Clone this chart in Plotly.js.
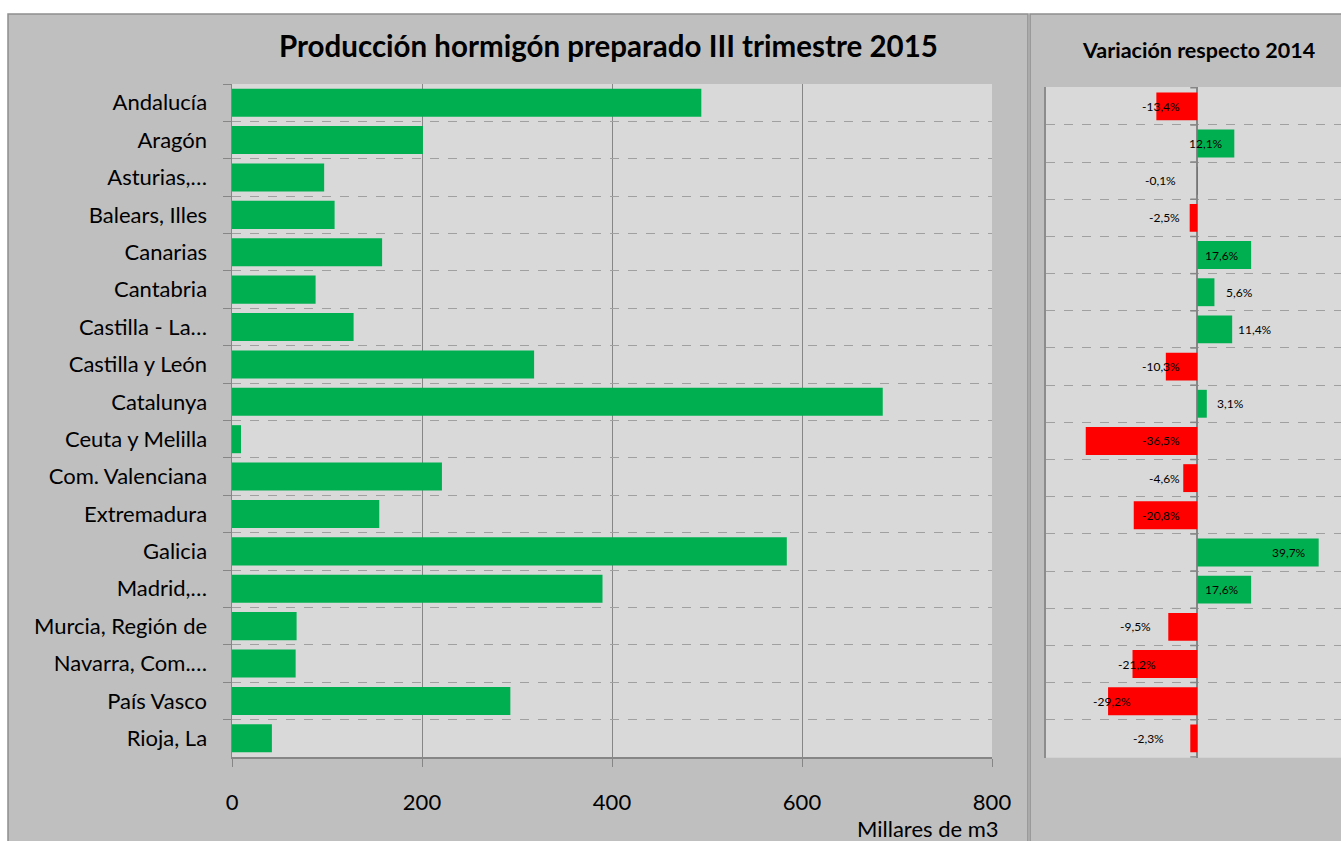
<!DOCTYPE html>
<html>
<head>
<meta charset="utf-8">
<script src="https://cdn.plot.ly/plotly-3.0.1.min.js"></script>
<style>html,body{margin:0;padding:0;background:#fff;}#chart{width:1341px;height:841px;}</style>
</head>
<body>
<div id="chart"></div>
<script>
const regions = ["Andalucía","Aragón","Asturias,…","Balears, Illes","Canarias","Cantabria","Castilla - La…","Castilla y León","Catalunya","Ceuta y Melilla","Com. Valenciana","Extremadura","Galicia","Madrid,…","Murcia, Región de","Navarra, Com.…","País Vasco","Rioja, La"];
const production = [494, 201, 97, 108, 158, 88, 128, 318, 685, 9.5, 221, 155, 584, 390, 68, 67, 293, 42];
const variation = [-13.4, 12.1, -0.1, -2.5, 17.6, 5.6, 11.4, -10.3, 3.1, -36.5, -4.6, -20.8, 39.7, 17.6, -9.5, -21.2, -29.2, -2.3];
const variationLabels = ["-13,4%","12,1%","-0,1%","-2,5%","17,6%","5,6%","11,4%","-10,3%","3,1%","-36,5%","-4,6%","-20,8%","39,7%","17,6%","-9,5%","-21,2%","-29,2%","-2,3%"];
const xTicks = [0, 200, 400, 600, 800];

// label offsets from the zero line (px), styling only
const labelShift = [-15, -10, -19, -15, 6, 27, 39, -15, 18, -15, -15, -15, 73, 6, -44, -39, -64, -31];

const W = 1341, H = 841;
const px = v => v / W, py = v => 1 - v / H;
const FONT = "Lato, 'Open Sans', sans-serif";
const GREEN = "#00b050", RED = "#ff0000";

const traces = [
  {type: "bar", orientation: "h", x: production, y: regions, marker: {color: GREEN}, xaxis: "x", yaxis: "y", hoverinfo: "x+y"},
  {type: "bar", orientation: "h", x: variation, y: regions, marker: {color: variation.map(v => v < 0 ? RED : GREEN)}, xaxis: "x2", yaxis: "y2", hoverinfo: "x+y"}
];

const shapes = [
  {type: "rect", xref: "paper", yref: "paper", x0: px(8), x1: px(1028), y0: -0.05, y1: py(14), fillcolor: "#bfbfbf", line: {color: "#8f8f8f", width: 1.5}, layer: "below"},
  {type: "rect", xref: "paper", yref: "paper", x0: px(1030), x1: 1.05, y0: -0.05, y1: py(14), fillcolor: "#bfbfbf", line: {color: "#8f8f8f", width: 1.5}, layer: "below"},
  {type: "rect", xref: "paper", yref: "paper", x0: px(232), x1: px(992), y0: py(757), y1: py(84), fillcolor: "#d9d9d9", line: {width: 0}, layer: "below"},
  {type: "rect", xref: "paper", yref: "paper", x0: px(1046), x1: 1, y0: py(757.7), y1: py(87), fillcolor: "#d9d9d9", line: {width: 0}, layer: "below"}
];
// small tick marks at the zero line of the right panel
for (let i = 0; i <= regions.length; i++) {
  shapes.push({type: "line", xref: "x2", yref: "y2", x0: -2.3, x1: 0, y0: i - 0.5, y1: i - 0.5, line: {color: "#868686", width: 1.5}});
}

const annotations = [
  {text: "<b>Producción hormigón preparado III trimestre 2015</b>", xref: "paper", yref: "paper", x: px(608), y: py(46), xanchor: "center", yanchor: "middle", showarrow: false, font: {family: FONT, size: 29.5, color: "#000"}},
  {text: "<b>Variación respecto 2014</b>", xref: "paper", yref: "paper", x: px(1198), y: py(50), xanchor: "center", yanchor: "middle", showarrow: false, font: {family: FONT, size: 21.5, color: "#000"}},
  {text: "Millares de m3", xref: "paper", yref: "paper", x: px(1001), y: py(828), xanchor: "right", yanchor: "middle", showarrow: false, font: {family: FONT, size: 22, color: "#000"}}
];
variation.forEach((v, i) => {
  annotations.push({text: variationLabels[i], xref: "x2", yref: "y2", x: 0, y: regions[i], xanchor: v < 0 ? "right" : "left", xshift: labelShift[i], yanchor: "middle", showarrow: false, font: {family: FONT, size: 12, color: "#000"}});
});

const layout = {
  width: W, height: H,
  margin: {l: 0, r: 0, t: 0, b: 0},
  paper_bgcolor: "#ffffff", plot_bgcolor: "rgba(0,0,0,0)",
  showlegend: false, bargap: 0.25,
  font: {family: FONT, color: "#000"},
  xaxis: {domain: [px(232), px(992)], range: [0, 800], tickvals: xTicks, ticks: "outside", ticklen: 8, tickcolor: "#868686",
          showgrid: true, gridcolor: "#868686", gridwidth: 1, zeroline: false, showline: true, linecolor: "#868686", linewidth: 1.5,
          tickfont: {family: FONT, size: 22, color: "#000"}, ticklabelstandoff: 17, anchor: "y"},
  yaxis: {domain: [py(757), py(84)], type: "category", autorange: "reversed", tickson: "boundaries", ticks: "outside", ticklen: 8, tickcolor: "#868686",
          showgrid: true, gridcolor: "#a0a0a0", griddash: "dash", gridwidth: 1, showline: true, linecolor: "#868686", linewidth: 1.5,
          tickfont: {family: FONT, size: 22, color: "#000"}, ticklabelstandoff: 19, anchor: "x"},
  xaxis2: {domain: [px(1046), 1], range: [-49.5, 47], showgrid: false, zeroline: true, zerolinecolor: "#868686", zerolinewidth: 2,
           showticklabels: false, ticks: "", showline: false, anchor: "y2"},
  yaxis2: {domain: [py(757.7), py(87)], type: "category", autorange: "reversed", tickson: "boundaries", ticks: "",
           showgrid: true, gridcolor: "#a0a0a0", griddash: "dash", gridwidth: 1, showline: true, linecolor: "#8c8c8c", linewidth: 2,
           showticklabels: false, anchor: "x2"},
  shapes: shapes,
  annotations: annotations
};

Plotly.newPlot("chart", traces, layout, {displayModeBar: false, staticPlot: true});
</script>
</body>
</html>
